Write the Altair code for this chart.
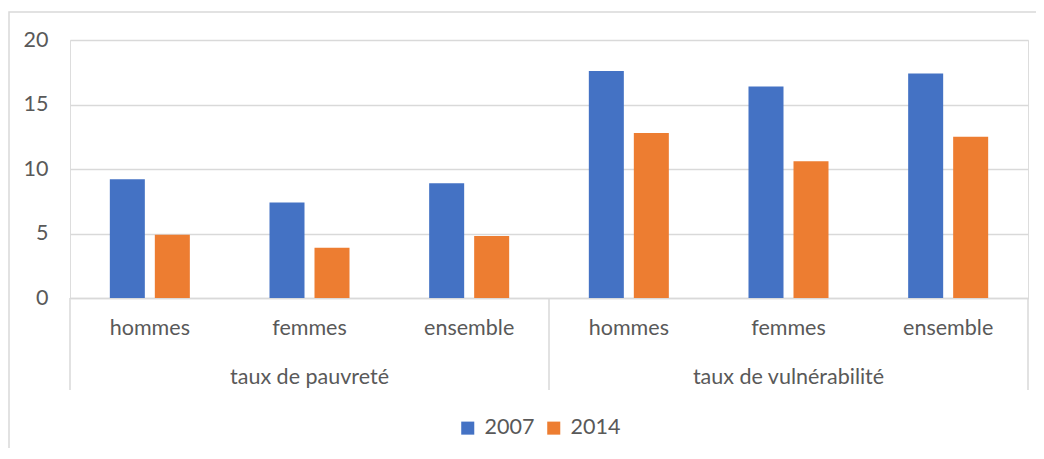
import altair as alt
import pandas as pd

groups = ["taux de pauvreté"] * 3 + ["taux de vulnérabilité"] * 3
subs = ["hommes", "femmes", "ensemble"] * 2
v2007 = [9.2, 7.4, 8.9, 17.6, 16.4, 17.4]
v2014 = [4.9, 3.9, 4.8, 12.8, 10.6, 12.5]
years = ["2007", "2014"]
colors = ["#4472C4", "#ED7D31"]
yticks = [0, 5, 10, 15, 20]

keys = [g + "|" + s for g, s in zip(groups, subs)]
rows = []
for k, g, s, a, b in zip(keys, groups, subs, v2007, v2014):
    rows.append({"key": k, "group": g, "sub": s, "year": "2007", "value": a})
    rows.append({"key": k, "group": g, "sub": s, "year": "2014", "value": b})
df = pd.DataFrame(rows)

W, H = 958, 258
FONT = "Lato"
FS = 21.5
GRAY = "#595959"
LINE = "#D9D9D9"

xscale = alt.Scale(domain=keys, paddingInner=0, paddingOuter=0)

bars = alt.Chart(df).mark_bar().encode(
    x=alt.X("key:N", scale=xscale, sort=keys,
            axis=alt.Axis(title=None, labelExpr="split(datum.value, '|')[1]",
                          labelAngle=0, labelFontSize=FS, labelColor=GRAY,
                          labelFont=FONT, labelPadding=19, ticks=False,
                          domainColor=LINE, domainWidth=1.5, grid=False)),
    xOffset=alt.XOffset("year:N", scale=alt.Scale(paddingInner=0.222, paddingOuter=0.885)),
    y=alt.Y("value:Q", scale=alt.Scale(domain=[0, 20]),
            axis=alt.Axis(title=None, values=yticks, domain=False, ticks=False,
                          labelFontSize=FS, labelColor=GRAY, labelFont=FONT,
                          labelPadding=22, gridColor=LINE, gridWidth=1.5)),
    color=alt.Color("year:N", scale=alt.Scale(domain=years, range=colors),
                    legend=alt.Legend(title=None, orient="none", legendX=387, legendY=377,
                                      direction="horizontal", symbolType="square",
                                      symbolSize=170, symbolStrokeWidth=0,
                                      labelFontSize=FS, labelColor=GRAY, labelFont=FONT,
                                      columnPadding=8, labelOffset=6)),
)

first = pd.DataFrame({"key": [keys[0], keys[3]]})
last = pd.DataFrame({"key": [keys[5]]})
sep1 = alt.Chart(first).mark_rule(color=LINE, strokeWidth=1.5).encode(
    x=alt.X("key:N", scale=xscale, sort=keys, bandPosition=0),
    y=alt.value(H), y2=alt.value(H + 92))
sep2 = alt.Chart(last).mark_rule(color=LINE, strokeWidth=1.5).encode(
    x=alt.X("key:N", scale=xscale, sort=keys, bandPosition=1),
    y=alt.value(H), y2=alt.value(H + 92))

glab = pd.DataFrame({"key": [keys[1], keys[4]], "group": [groups[1], groups[4]]})
gtext = alt.Chart(glab).mark_text(fontSize=FS, color=GRAY, font=FONT).encode(
    x=alt.X("key:N", scale=xscale, sort=keys),
    y=alt.value(H + 80), text="group:N")

frame = alt.Chart(pd.DataFrame({"a": [0]})).mark_rect(
    fill="transparent", stroke=LINE, strokeWidth=1.5).encode(
    x=alt.value(-61), x2=alt.value(1000), y=alt.value(-28), y2=alt.value(440))

chart = alt.layer(frame, bars, sep1, sep2, gtext).resolve_scale(x="shared").properties(
    width=W, height=H,
    autosize=alt.AutoSizeParams(type="none"),
    padding={"left": 62, "top": 32, "right": 8, "bottom": 150},
).configure_view(stroke=None).configure(font=FONT)

chart.save("out.html", embed_options={"renderer": "svg", "actions": False})
